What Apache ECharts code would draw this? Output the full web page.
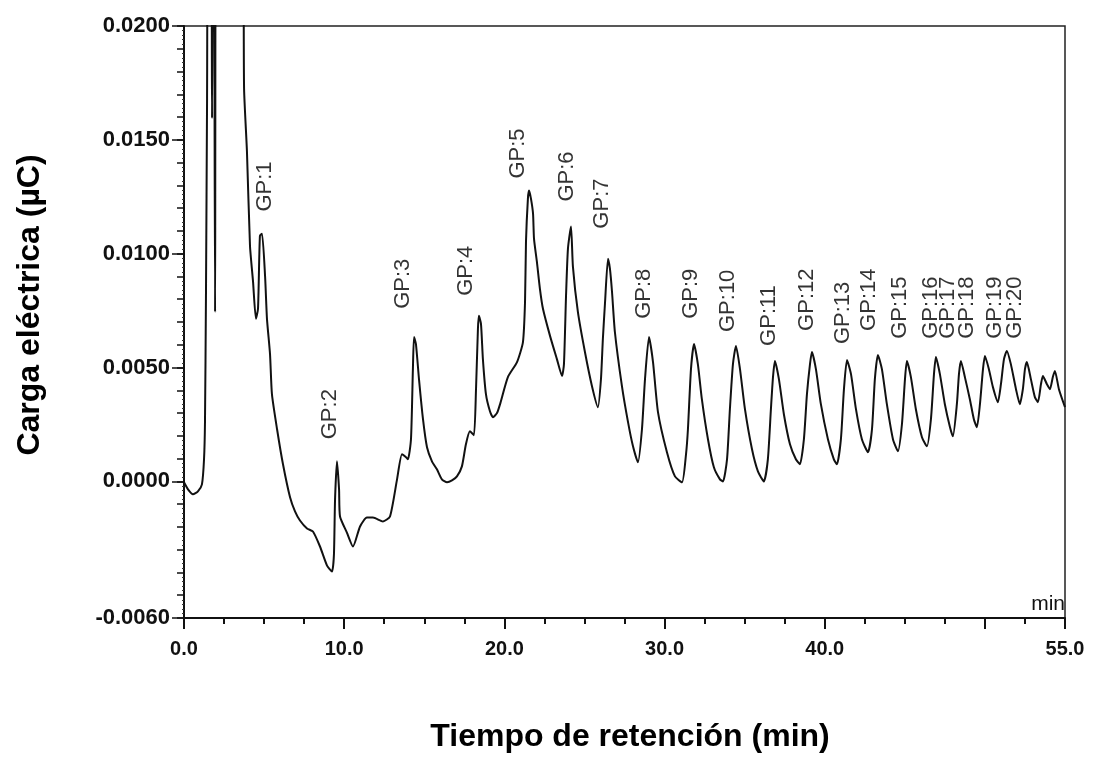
<!DOCTYPE html>
<html>
<head>
<meta charset="utf-8">
<title>Carga eléctrica vs tiempo de retención</title>
<script src="https://cdn.jsdelivr.net/npm/echarts@6/dist/echarts.min.js"></script>
<style>
  html, body { margin: 0; padding: 0; background: #fff; }
  #chart { width: 1093px; height: 757px; }
</style>
</head>
<body>
<div id="chart"></div>
<script>
// tiempo de retención (min)
const tiempo = [
  0.00, 0.25, 0.56, 0.87, 1.12, 1.25, 1.31, 1.37, 1.44, 1.50, 1.69, 1.75, 1.81, 1.87, 1.94, 2.03,
  3.68, 3.75, 3.93, 4.12, 4.31, 4.49, 4.62, 4.74, 4.87, 5.06, 5.18, 5.37, 5.49, 5.81, 6.18, 6.62,
  6.93, 7.24, 7.68, 8.05, 8.49, 8.93, 9.24, 9.36, 9.43, 9.55, 9.68, 9.74, 10.17, 10.55, 10.99, 11.42,
  11.80, 12.42, 12.86, 13.30, 13.61, 13.86, 13.98, 14.17, 14.29, 14.36, 14.48, 14.67, 14.92, 15.17, 15.48, 15.79,
  16.10, 16.42, 16.73, 17.04, 17.35, 17.60, 17.85, 18.10, 18.23, 18.35, 18.41, 18.54, 18.66, 18.85, 19.10, 19.29,
  19.54, 19.73, 20.22, 20.79, 21.16, 21.29, 21.35, 21.47, 21.54, 21.66, 21.79, 21.85, 22.03, 22.22, 22.41, 22.85,
  23.28, 23.60, 23.72, 23.85, 23.97, 24.16, 24.28, 24.59, 25.03, 25.47, 25.84, 26.03, 26.15, 26.28, 26.47, 26.59,
  26.72, 26.90, 27.34, 27.72, 28.03, 28.34, 28.59, 28.78, 29.03, 29.28, 29.59, 30.15, 30.65, 31.09, 31.34, 31.46,
  31.65, 31.84, 32.08, 32.33, 32.71, 33.08, 33.46, 33.65, 33.90, 34.08, 34.27, 34.46, 34.71, 35.02, 35.46, 35.83,
  36.20, 36.45, 36.64, 36.77, 36.89, 37.14, 37.45, 37.83, 38.20, 38.45, 38.70, 38.89, 39.08, 39.20, 39.45, 39.76,
  40.20, 40.57, 40.76, 41.01, 41.20, 41.39, 41.64, 41.95, 42.32, 42.70, 42.95, 43.13, 43.32, 43.57, 43.88, 44.26,
  44.57, 44.82, 45.01, 45.13, 45.38, 45.69, 46.07, 46.38, 46.63, 46.82, 46.94, 47.19, 47.50, 47.82, 48.00, 48.25,
  48.38, 48.50, 48.75, 49.06, 49.31, 49.50, 49.69, 49.88, 50.00, 50.25, 50.50, 50.81, 51.00, 51.19, 51.37, 51.62,
  51.94, 52.18, 52.37, 52.50, 52.62, 52.87, 53.12, 53.31, 53.50, 53.62, 53.87, 54.06, 54.24, 54.37, 54.62, 55.00
];

// carga eléctrica (µC)
const carga = [
  -0.00004, -0.00035, -0.00057, -0.00044, -0.00013, 0.00097, 0.00260, 0.00802, 0.01683, 0.02500, 0.02500, 0.01595, 0.02500, 0.02500, 0.00744, 0.02500,
  0.02500, 0.01727, 0.01449, 0.01035, 0.00877, 0.00714, 0.00758, 0.01079, 0.01088, 0.00903, 0.00714, 0.00559, 0.00383, 0.00229, 0.00075, -0.00070,
  -0.00132, -0.00172, -0.00207, -0.00220, -0.00286, -0.00370, -0.00396, -0.00322, -0.00079, 0.00088, -0.00035, -0.00154, -0.00225, -0.00286, -0.00198, -0.00159,
  -0.00159, -0.00176, -0.00154, 0.00009, 0.00119, 0.00106, 0.00097, 0.00185, 0.00493, 0.00634, 0.00603, 0.00449, 0.00273, 0.00150, 0.00088, 0.00053,
  0.00009, -0.00004, 0.00004, 0.00022, 0.00066, 0.00163, 0.00220, 0.00203, 0.00405, 0.00670, 0.00727, 0.00692, 0.00537, 0.00383, 0.00308, 0.00282,
  0.00300, 0.00339, 0.00458, 0.00524, 0.00612, 0.00789, 0.01053, 0.01242, 0.01277, 0.01242, 0.01176, 0.01066, 0.00965, 0.00846, 0.00758, 0.00639,
  0.00537, 0.00463, 0.00515, 0.00815, 0.01022, 0.01119, 0.00943, 0.00744, 0.00568, 0.00418, 0.00326, 0.00449, 0.00626, 0.00780, 0.00978, 0.00934,
  0.00833, 0.00656, 0.00418, 0.00260, 0.00154, 0.00084, 0.00229, 0.00449, 0.00634, 0.00524, 0.00304, 0.00128, 0.00022, -0.00004, 0.00119, 0.00229,
  0.00493, 0.00603, 0.00515, 0.00361, 0.00185, 0.00062, 0.00009, 0.00000, 0.00097, 0.00317, 0.00515, 0.00595, 0.00493, 0.00317, 0.00141, 0.00044,
  0.00000, 0.00097, 0.00317, 0.00458, 0.00529, 0.00449, 0.00295, 0.00163, 0.00097, 0.00075, 0.00185, 0.00383, 0.00515, 0.00568, 0.00493, 0.00339,
  0.00185, 0.00097, 0.00075, 0.00185, 0.00405, 0.00533, 0.00471, 0.00317, 0.00185, 0.00128, 0.00229, 0.00449, 0.00555, 0.00493, 0.00339, 0.00185,
  0.00132, 0.00251, 0.00449, 0.00529, 0.00458, 0.00317, 0.00194, 0.00154, 0.00273, 0.00471, 0.00546, 0.00471, 0.00339, 0.00238, 0.00198, 0.00339,
  0.00471, 0.00529, 0.00458, 0.00361, 0.00273, 0.00238, 0.00339, 0.00493, 0.00551, 0.00493, 0.00414, 0.00348, 0.00427, 0.00537, 0.00573, 0.00515,
  0.00405, 0.00339, 0.00405, 0.00493, 0.00524, 0.00449, 0.00370, 0.00348, 0.00427, 0.00463, 0.00427, 0.00405, 0.00458, 0.00485, 0.00405, 0.00326
];

// etiquetas de los picos (posición del inicio del texto)
const picosNombre = ['GP:1', 'GP:2', 'GP:3', 'GP:4', 'GP:5', 'GP:6', 'GP:7', 'GP:8', 'GP:9', 'GP:10',
  'GP:11', 'GP:12', 'GP:13', 'GP:14', 'GP:15', 'GP:16', 'GP:17', 'GP:18', 'GP:19', 'GP:20'];
const picosTiempo = [5.06, 9.11, 13.67, 17.60, 20.85, 23.91, 26.09, 28.71, 31.65, 33.96,
  36.52, 38.89, 41.14, 42.76, 44.69, 46.63, 47.69, 48.88, 50.62, 51.87];
const picosCarga = [0.01185, 0.00185, 0.00758, 0.00815, 0.01330, 0.01229, 0.01110, 0.00714, 0.00714, 0.00656,
  0.00595, 0.00661, 0.00603, 0.00661, 0.00626, 0.00626, 0.00626, 0.00626, 0.00626, 0.00626];

const yEtiquetas = [-0.006, 0, 0.005, 0.01, 0.015, 0.02];
const xEtiquetas = [0, 10, 20, 30, 40, 55];
const xTicksMayores = [0, 10, 20, 30, 40, 50, 55];

const font = "'Liberation Sans', Arial, sans-serif";

const chart = echarts.init(document.getElementById('chart'));

const option = {
  backgroundColor: '#fff',
  animation: false,
  grid: {
    left: 184,
    right: 28,
    top: 26,
    bottom: 139,
    show: true,
    borderColor: '#222',
    borderWidth: 1.5
  },
  xAxis: [
    {
      type: 'value',
      min: 0,
      max: 55,
      interval: 2.5,
      position: 'bottom',
      axisLine: { onZero: false, lineStyle: { color: '#111', width: 2 } },
      axisTick: { length: 6, lineStyle: { color: '#111', width: 2 } },
      axisLabel: {
        customValues: xEtiquetas,
        formatter: v => v.toFixed(1),
        margin: 21,
        color: '#111',
        fontSize: 20,
        fontWeight: 'bold',
        fontFamily: font
      },
      splitLine: { show: false }
    },
    {
      type: 'value',
      min: 0,
      max: 55,
      position: 'bottom',
      axisLine: { show: false, onZero: false },
      axisTick: { customValues: xTicksMayores, length: 11, lineStyle: { color: '#111', width: 2 } },
      axisLabel: { show: false },
      splitLine: { show: false }
    }
  ],
  yAxis: [
    {
      type: 'value',
      min: -0.006,
      max: 0.02,
      interval: 0.001,
      position: 'left',
      axisLine: { onZero: false, lineStyle: { color: '#111', width: 2 } },
      axisTick: { length: 7, lineStyle: { color: '#111', width: 1.5 } },
      minorTick: { show: true, splitNumber: 5, length: 2, lineStyle: { color: '#333', width: 1 } },
      axisLabel: {
        customValues: yEtiquetas,
        formatter: v => v.toFixed(4),
        margin: 14,
        color: '#111',
        fontSize: 22,
        fontWeight: 'bold',
        fontFamily: font
      },
      splitLine: { show: false }
    },
    {
      type: 'value',
      min: -0.006,
      max: 0.02,
      position: 'left',
      axisLine: { show: false, onZero: false },
      axisTick: { customValues: yEtiquetas, length: 12, lineStyle: { color: '#111', width: 1.5 } },
      axisLabel: { show: false },
      splitLine: { show: false }
    }
  ],
  series: [
    {
      name: 'Carga eléctrica',
      type: 'line',
      data: tiempo.map((t, i) => [t, carga[i]]),
      showSymbol: false,
      symbol: 'none',
      smooth: 0.2,
      clip: true,
      lineStyle: { color: '#111', width: 2 },
      z: 3
    },
    {
      name: 'Picos',
      type: 'scatter',
      data: picosTiempo.map((t, i) => ({ name: picosNombre[i], value: [t, picosCarga[i]] })),
      symbol: 'circle',
      symbolSize: 1,
      itemStyle: { color: 'rgba(0,0,0,0)' },
      silent: true,
      label: {
        show: true,
        formatter: p => p.name,
        position: 'inside',
        rotate: 90,
        align: 'left',
        verticalAlign: 'middle',
        color: '#000',
        fontSize: 22,
        fontFamily: font
      },
      z: 4
    }
  ],
  graphic: [
    {
      type: 'text',
      x: 30,
      y: 305,
      rotation: Math.PI / 2,
      style: {
        text: 'Carga eléctrica (µC)',
        font: 'bold 32px ' + font,
        fill: '#000',
        textAlign: 'center',
        textVerticalAlign: 'middle'
      }
    },
    {
      type: 'text',
      x: 630,
      y: 737,
      style: {
        text: 'Tiempo de retención (min)',
        font: 'bold 32px ' + font,
        fill: '#000',
        textAlign: 'center',
        textVerticalAlign: 'middle'
      }
    },
    {
      type: 'text',
      x: 1065,
      y: 615,
      style: {
        text: 'min',
        font: '21px ' + font,
        fill: '#111',
        textAlign: 'right',
        textVerticalAlign: 'bottom'
      }
    }
  ]
};

chart.setOption(option);

window.addEventListener('resize', () => chart.resize());
</script>
</body>
</html>
